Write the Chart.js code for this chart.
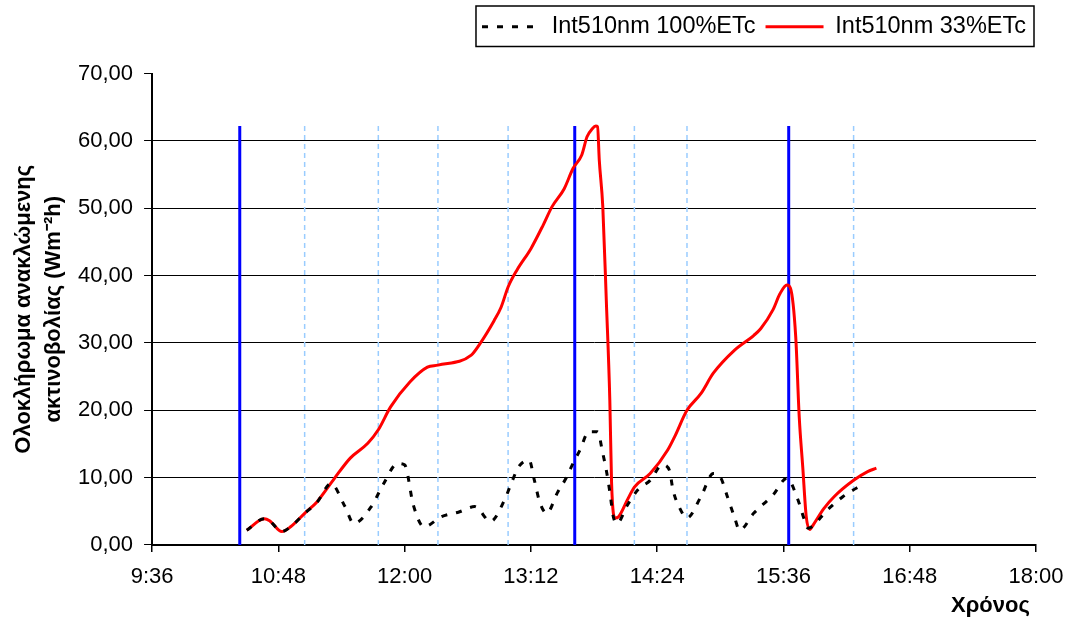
<!DOCTYPE html>
<html lang="el">
<head>
<meta charset="utf-8">
<script src="https://cdn.jsdelivr.net/npm/chart.js@4.4.1/dist/chart.umd.min.js"></script>
<style>
  html, body { margin: 0; padding: 0; background: #fff; }
  #wrap { width: 1067px; height: 621px; }
</style>
</head>
<body>
<div id="wrap"><canvas id="grafima"></canvas></div>
<script>
// Int510nm 100%ETc (black dashed)
const xronos100 = ['10:30', '10:40', '10:43', '10:50', '10:55', '11:03', '11:10', '11:18', '11:26', '11:31',
    '11:41', '11:48', '11:56', '12:00', '12:05', '12:11', '12:21', '12:31', '12:40', '12:49',
    '12:57', '13:00', '13:05', '13:11', '13:14', '13:17', '13:21', '13:27', '13:32', '13:36',
    '13:40', '13:45', '13:50', '13:53', '13:55', '13:57', '13:59', '14:01', '14:07', '14:13',
    '14:20', '14:27', '14:31', '14:33', '14:37', '14:41', '14:49', '14:56', '15:00', '15:04',
    '15:08', '15:11', '15:19', '15:30', '15:38', '15:44', '15:48', '15:50', '16:01', '16:10', '16:22'];
const timi100 = [2.2, 3.9, 3.6, 2.0, 2.7, 4.7, 6.3, 9.1, 5.7, 3.2,
    5.7, 9.1, 12.1, 11.9, 5.9, 2.7, 4.2, 4.9, 5.7, 3.5,
    6.7, 8.6, 11.6, 12.6, 9.6, 6.4, 4.7, 7.7, 9.9, 12.1,
    14.1, 16.8, 16.8, 13.6, 11.1, 7.9, 4.2, 3.2, 5.9, 8.2,
    9.6, 11.9, 11.1, 8.2, 5.4, 4.0, 7.2, 10.6, 10.1, 7.2,
    4.2, 2.2, 4.7, 7.4, 9.9, 6.9, 3.7, 2.5, 5.2, 7.2, 9.1];

// Int510nm 33%ETc (red)
const xronos33 = ['10:30', '10:40', '10:43', '10:50', '10:55', '11:03', '11:10', '11:20', '11:29', '11:39',
    '11:45', '11:52', '12:03', '12:13', '12:19', '12:38', '12:43', '12:51', '12:55', '12:59',
    '13:04', '13:12', '13:19', '13:24', '13:31', '13:36', '13:41', '13:44', '13:47', '13:49',
    '13:50', '13:51', '13:53', '13:55', '13:57', '13:58', '14:00', '14:02', '14:07', '14:11',
    '14:20', '14:30', '14:34', '14:41', '14:49', '14:56', '15:08', '15:19', '15:23', '15:30',
    '15:34', '15:38', '15:40', '15:43', '15:45', '15:47', '15:49', '15:51', '15:53', '15:59',
    '16:05', '16:16', '16:24', '16:29'];
const timi33 = [2.2, 3.9, 3.6, 2.0, 2.7, 4.7, 6.4, 9.9, 12.9, 15.1,
    17.1, 20.5, 24.2, 26.4, 26.7, 28.2, 29.9, 33.3, 35.3, 38.3,
    40.8, 44.0, 47.5, 50.2, 52.9, 55.9, 57.9, 60.6, 61.8, 62.2,
    62.1, 57.1, 50.2, 36.3, 21.5, 9.2, 4.0, 4.2, 6.7, 8.6,
    10.6, 14.1, 16.1, 20.0, 22.5, 25.5, 28.9, 31.1, 32.1, 34.9,
    37.3, 38.6, 38.1, 30.9, 19.0, 11.6, 4.2, 2.3, 3.0, 5.4,
    7.2, 9.6, 10.9, 11.4];

// vertical marker lines
const kathetesSynexeis = ['10:26', '13:37', '15:39'];
const kathetesDiakekommenes = ['11:03', '11:45', '12:19', '12:59', '14:11', '14:41', '16:16'];
const ypsosKatheton = 62.2;

const xTicks = ['9:36', '10:48', '12:00', '13:12', '14:24', '15:36', '16:48', '18:00'];
const yTicks = [0, 10, 20, 30, 40, 50, 60, 70];

const GRAMMATOSEIRA = "'Liberation Sans', Arial, sans-serif";

function seLepta(s) {
    const [h, m] = s.split(':');
    return Number(h) * 60 + Number(m);
}

function simeia(xr, times) {
    return xr.map((t, i) => ({ x: seLepta(t), y: times[i] }));
}

function kathetiGrammi(t, xroma, platos, dash) {
    return {
        label: 'v' + t,
        data: [{ x: seLepta(t), y: 0 }, { x: seLepta(t), y: ypsosKatheton }],
        borderColor: xroma,
        borderWidth: platos,
        borderDash: dash,
        pointRadius: 0,
        tension: 0
    };
}

// border round the legend, like the Excel one
const plaisioLegend = {
    id: 'plaisioLegend',
    afterDraw(chart) {
        const hb = chart.legend.legendHitBoxes;
        if (!hb || !hb.length) return;
        const first = hb[0];
        const last = hb[hb.length - 1];
        const ctx = chart.ctx;
        ctx.save();
        ctx.strokeStyle = '#000';
        ctx.lineWidth = 1.5;
        ctx.strokeRect(first.left - 6, first.top - 9, last.left + last.width - first.left + 14, first.height + 17);
        ctx.restore();
    }
};

const datasets = [
    {
        label: 'Int510nm 100%ETc',
        data: simeia(xronos100, timi100),
        borderColor: '#000000',
        backgroundColor: '#000000',
        borderWidth: 3,
        borderDash: [6, 9],
        pointRadius: 0,
        cubicInterpolationMode: 'monotone'
    },
    {
        label: 'Int510nm 33%ETc',
        data: simeia(xronos33, timi33),
        borderColor: '#FF0000',
        backgroundColor: '#FF0000',
        borderWidth: 3,
        pointRadius: 0,
        cubicInterpolationMode: 'monotone'
    }
];
kathetesSynexeis.forEach(t => datasets.push(kathetiGrammi(t, '#0000FF', 3, [])));
kathetesDiakekommenes.forEach(t => datasets.push(kathetiGrammi(t, '#99CCFF', 1.5, [5, 4])));

new Chart(document.getElementById('grafima'), {
    type: 'line',
    data: { datasets },
    options: {
        responsive: true,
        maintainAspectRatio: false,
        animation: false,
        events: [],
        layout: { padding: { top: 5, left: 9, right: 31, bottom: 2 } },
        plugins: {
            tooltip: { enabled: false },
            legend: {
                position: 'top',
                align: 'end',
                labels: {
                    // only the two data series, with their own dash and width
                    generateLabels: chart => Chart.defaults.plugins.legend.labels.generateLabels(chart)
                        .filter(it => it.datasetIndex < 2)
                        .map(it => {
                            const ds = chart.data.datasets[it.datasetIndex];
                            return Object.assign({}, it, {
                                lineDash: ds.borderDash || [],
                                lineWidth: ds.borderWidth,
                                strokeStyle: ds.borderColor
                            });
                        }),
                    color: '#000',
                    font: { family: GRAMMATOSEIRA, size: 23.5 },
                    padding: 10,
                    usePointStyle: true,
                    pointStyle: 'line',
                    pointStyleWidth: 58
                }
            },
            // empty spacer between legend and plot
            subtitle: {
                display: true,
                text: '',
                weight: 500,
                padding: 0,
                font: { size: 25, lineHeight: 1 }
            }
        },
        scales: {
            x: {
                type: 'linear',
                min: seLepta(xTicks[0]),
                max: seLepta(xTicks[xTicks.length - 1]),
                afterBuildTicks: s => { s.ticks = xTicks.map(t => ({ value: seLepta(t) })); },
                ticks: {
                    callback: (v, i) => xTicks[i],
                    color: '#000',
                    font: { family: GRAMMATOSEIRA, size: 22, lineHeight: 2.273 },
                    padding: 0,
                    maxRotation: 0,
                    autoSkip: false
                },
                grid: { drawOnChartArea: false, tickLength: 7, color: '#000', lineWidth: 1.5 },
                border: { color: '#000', width: 2 },
                title: {
                    display: true,
                    text: 'Χρόνος\u00A0',
                    align: 'end',
                    color: '#000',
                    font: { family: GRAMMATOSEIRA, size: 22, weight: 'bold', lineHeight: 1 },
                    padding: { top: -7, bottom: 2 }
                }
            },
            y: {
                min: 0,
                max: 70,
                afterBuildTicks: s => { s.ticks = yTicks.map(v => ({ value: v })); },
                ticks: {
                    callback: v => v.toFixed(2).replace('.', ','),
                    color: '#000',
                    font: { family: GRAMMATOSEIRA, size: 22 },
                    padding: 11
                },
                grid: {
                    color: c => (c.tick && c.tick.value === 70 ? 'rgba(0,0,0,0)' : '#000'),
                    tickColor: '#000',
                    lineWidth: 1,
                    tickLength: 8
                },
                border: { color: '#000', width: 2 },
                title: {
                    display: true,
                    text: ['Ολοκλήρωμα ανακλώμενης', 'ακτινοβολίας (Wm⁻²h)'],
                    color: '#000',
                    font: { family: GRAMMATOSEIRA, size: 22, weight: 'bold', lineHeight: 1.364 },
                    padding: { top: 0, bottom: -2 }
                }
            }
        }
    },
    plugins: [plaisioLegend]
});
</script>
</body>
</html>
